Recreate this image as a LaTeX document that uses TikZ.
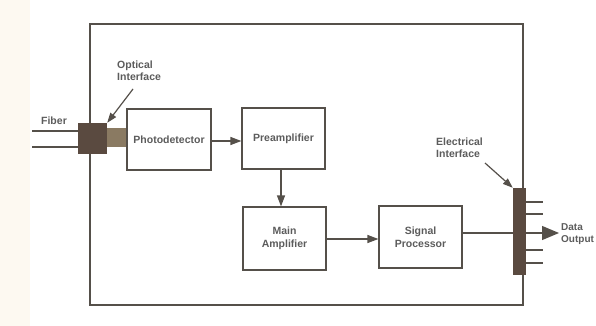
\documentclass[tikz,border=0pt]{standalone}
\usepackage{fontspec}
\setmainfont{Liberation Sans}
\usetikzlibrary{arrows.meta,positioning}
\definecolor{linec}{HTML}{55504A}
\definecolor{txtc}{HTML}{5C5C5C}
\definecolor{ifc}{HTML}{5A4A40}
\definecolor{linkc}{HTML}{8A7A62}
\definecolor{cream}{HTML}{FDF9F1}
\tikzset{
  blk/.style={draw=linec, line width=1.2pt, fill=white, minimum width=84pt, minimum height=61pt, font=\bfseries\fontsize{10.5}{12.5}\selectfont, text=txtc, align=center, inner sep=0pt},
  lbl/.style={font=\bfseries\fontsize{10.5}{12}\selectfont, text=txtc, align=left, inner sep=0pt},
  conn/.style={draw=linec, line width=1.2pt},
  arr/.style={conn, -{Triangle[length=11pt,width=8pt]}},
  bigarr/.style={conn, -{Triangle[length=17pt,width=14pt]}},
  thinarr/.style={draw=linec, line width=1.2pt, -{Triangle[length=10pt,width=7pt]}},
  iface/.style={fill=ifc, draw=none, inner sep=0pt}
}
\begin{document}
\begin{tikzpicture}[x=1pt,y=-1pt]
\useasboundingbox (0,0) rectangle (596,326);
\fill[white] (0,0) rectangle (596,326);
\fill[cream] (0,0) rectangle (30,326);
% outer box
\draw[linec, line width=1.2pt] (90,24) rectangle (523,305);
% optical interface
\node[iface, minimum width=29pt, minimum height=31pt] (oi) at (92.5,138.5) {};
\node[fill=linkc, draw=none, inner sep=0pt, minimum width=20pt, minimum height=19pt] (link) at (117,137.5) {};
\coordinate (f1) at (32,131);
\coordinate (f2) at (32,147);
\draw[conn] (f1) -- (f1 -| oi.west);
\draw[conn] (f2) -- (f2 -| oi.west);
\node[lbl] (fiber) at (54,121) {Fiber};
% blocks
\node[blk] (pd) at (169,139.5) {Photodetector};
\node[blk, minimum width=83pt] (pre) at (283.5,138.5) {Preamplifier};
\node[blk, minimum width=83pt, minimum height=63pt] (main) at (284.5,238.5) {Main\\Amplifier};
\node[blk, minimum width=83pt, minimum height=62pt] (sp) at (420.5,237) {Signal\\Processor};
% electrical interface
\node[iface, minimum width=13pt, minimum height=87pt] (ei) at (519.5,231.5) {};
\coordinate (p1) at (543,202);
\coordinate (p2) at (543,214);
\coordinate (p3) at (543,250);
\coordinate (p4) at (543,263);
\foreach \p in {p1,p2,p3,p4} \draw[conn] (\p -| ei.east) -- (\p);
% connectors
\draw[arr] (pd.east |- 0,141) -- (pre.west |- 0,141);
\draw[arr] (pre.south -| 281,0) -- (main.north -| 281,0);
\draw[arr] (main.east |- 0,239) -- (sp.west |- 0,239);
\draw[conn] (sp.east |- 0,233) -- (ei.west |- 0,233);
\coordinate (dout) at (559,233);
\draw[bigarr] (ei.east |- 0,233) -- (dout);
\node[lbl, anchor=west, font=\bfseries\fontsize{10}{12}\selectfont] (dlbl) at (561,234) {Data\\Output};
% labels with pointers
\node[lbl, anchor=west] (oil) at (117,71) {Optical\\Interface};
\coordinate (oia) at (133,89);
\draw[thinarr] (oia) -- (oi.north east);
\node[lbl, anchor=west] (eil) at (436,148) {Electrical\\Interface};
\coordinate (eia) at (485,163);
\draw[thinarr] (eia) -- (ei.north west);
\end{tikzpicture}
\end{document}
